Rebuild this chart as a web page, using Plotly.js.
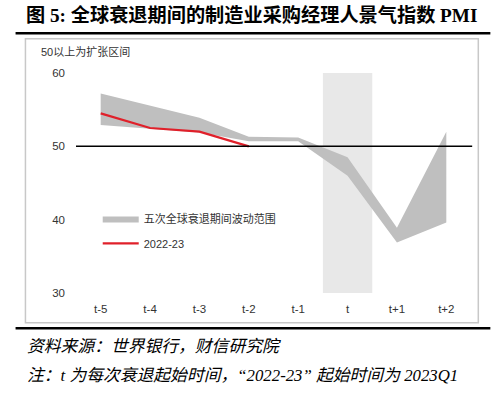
<!DOCTYPE html>
<html>
<head>
<meta charset="utf-8">
<script src="https://cdn.plot.ly/plotly-3.0.1.min.js"></script>
<style>html,body{margin:0;padding:0;background:#fff;}#chart{width:500px;height:397px;}</style>
</head>
<body>
<div id="chart"></div>
<script>
// ---- data ----
var categories = ['t-5', 't-4', 't-3', 't-2', 't-1', 't', 't+1', 't+2'];
var rangeHigh = [57.2, 55.5, 53.9, 51.3, 51.2, 48.5, 38.9, 52.0];
var rangeLow  = [52.9, 52.4, 51.9, 50.7, 50.7, 46.0, 36.9, 39.6];
var pmi2022 = [54.5, 52.5, 52.0, 50.0, null, null, null, null];
var recessionStart = ['t'];
var recessionTop = [60];
var threshold = 50;
var yTicks = [30, 40, 50, 60];

var titleText = '图 5: 全球衰退期间的制造业采购经理人景气指数 PMI';
var noteTop = '50以上为扩张区间';
var rangeName = '五次全球衰退期间波动范围';
var lineName = '2022-23';
var source = '资料来源：世界银行，财信研究院';
var note = '注：t 为每次衰退起始时间，“2022-23” 起始时间为 2023Q1';

var sans = 'Liberation Sans, Arial, "Noto Sans CJK SC", sans-serif';
var serif = 'Liberation Serif, "Times New Roman", "Noto Sans CJK SC", serif';

var traces = [
  {type: 'bar', x: recessionStart, y: recessionTop, width: 1.0,
   marker: {color: '#e8e8e8', line: {width: 0}}, showlegend: false, hoverinfo: 'skip'},
  {type: 'scatter', mode: 'lines', x: categories, y: rangeLow,
   line: {width: 0, color: '#bfbfbf'}, showlegend: false, hoverinfo: 'skip', legendgroup: 'a'},
  {type: 'scatter', mode: 'lines', x: categories, y: rangeHigh, name: rangeName,
   fill: 'tonexty', fillcolor: '#bfbfbf', line: {width: 0, color: '#bfbfbf'}, legendgroup: 'a'},
  {type: 'scatter', mode: 'lines', x: categories, y: pmi2022, name: lineName,
   line: {width: 2.2, color: '#e0202a'}, legendgroup: 'b'}
];

var layout = {
  width: 500, height: 397,
  margin: {l: 76, r: 29, t: 73, b: 104},
  paper_bgcolor: '#fff', plot_bgcolor: 'rgba(0,0,0,0)',
  showlegend: true,
  title: {text: '<b>' + titleText + '</b>', font: {family: serif, size: 19.2, color: '#000'},
          xref: 'container', yref: 'container', x: 0.052, xanchor: 'left', y: 0.962, yanchor: 'middle'},
  xaxis: {type: 'category', categoryorder: 'array', categoryarray: categories,
          range: [-0.5, 7.5], showgrid: false, zeroline: false, showline: false, ticks: '',
          ticklabelstandoff: 7, tickfont: {family: sans, size: 11.5, color: '#333'}, fixedrange: true},
  yaxis: {range: [30, 60], tickvals: yTicks, showgrid: false, zeroline: false, showline: false,
          ticks: '', ticklabelstandoff: 10, tickfont: {family: sans, size: 11.5, color: '#333'}, fixedrange: true},
  legend: {x: 0.055, y: 0.405, xanchor: 'left', yanchor: 'top', bgcolor: 'rgba(0,0,0,0)',
           font: {family: sans, size: 11, color: '#333'}, traceorder: 'grouped', tracegroupgap: 6,
           itemwidth: 36},
  barmode: 'overlay',
  shapes: [
    {type: 'line', xref: 'paper', yref: 'y', x0: 0, x1: 1.003, y0: threshold, y1: threshold,
     line: {color: '#000', width: 1.5}, layer: 'above'},
    {type: 'rect', xref: 'paper', yref: 'paper', x0: -0.128, x1: 1.0185, y0: -0.135, y1: 1.156,
     line: {color: '#c8c8c8', width: 1.5}, fillcolor: 'rgba(0,0,0,0)', layer: 'below'},
    {type: 'line', xref: 'paper', yref: 'paper', x0: -0.153, x1: 1.049, y0: 1.181, y1: 1.181,
     line: {color: '#000', width: 2.5}},
    {type: 'line', xref: 'paper', yref: 'paper', x0: -0.153, x1: 1.049, y0: -0.160, y1: -0.160,
     line: {color: '#000', width: 2.5}}
  ],
  annotations: [
    {text: noteTop, xref: 'paper', yref: 'paper', x: -0.094, y: 1.097, xanchor: 'left', yanchor: 'middle',
     showarrow: false, font: {family: sans, size: 11, color: '#333'}},
    {text: '<i>' + source + '</i>', xref: 'paper', yref: 'paper', x: -0.13, y: -0.244, xanchor: 'left', yanchor: 'middle',
     showarrow: false, font: {family: serif, size: 16.8, color: '#000'}},
    {text: '<i>' + note + '</i>', xref: 'paper', yref: 'paper', x: -0.13, y: -0.376, xanchor: 'left', yanchor: 'middle',
     showarrow: false, font: {family: serif, size: 16.8, color: '#000'}}
  ]
};

Plotly.newPlot('chart', traces, layout, {displayModeBar: false, staticPlot: true});
</script>
</body>
</html>
